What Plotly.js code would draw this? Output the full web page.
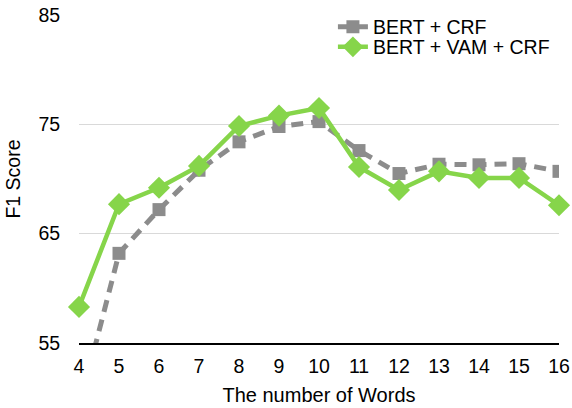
<!DOCTYPE html>
<html><head><meta charset="utf-8">
<script src="https://cdn.plot.ly/plotly-3.0.1.min.js"></script>
<style>html,body{margin:0;padding:0;background:#fff}#chart{width:572px;height:408px}</style>
</head><body><div id="chart"></div>
<script>
var words = [4,5,6,7,8,9,10,11,12,13,14,15,16];
var bertCrf = [49.0,63.2,67.2,70.8,73.4,74.8,75.25,72.6,70.5,71.35,71.3,71.4,70.7];
var bertVamCrf = [58.3,67.7,69.2,71.2,74.85,75.8,76.5,71.1,69.0,70.7,70.1,70.1,67.6];
var seriesNames = ["BERT + CRF","BERT + VAM + CRF"];
var yTicks = [55,65,75,85];

var traces = [
  {x: words, y: bertCrf, name: seriesNames[0], type: "scatter", mode: "lines+markers",
   line: {color: "#8c8c8c", width: 5, dash: "12px,8px"},
   marker: {symbol: "square", size: 13, color: "#8c8c8c"}, cliponaxis: true, legend: "legend"},
  {x: words, y: bertVamCrf, name: seriesNames[1], type: "scatter", mode: "lines+markers",
   line: {color: "#86d54a", width: 4.5},
   marker: {symbol: "diamond", size: 17, color: "#86d54a"}, cliponaxis: false, legend: "legend2"}
];

var legendBase = {x: 0.529, xanchor: "left", yanchor: "middle", bgcolor: "rgba(0,0,0,0)",
                  font: {size: 19.5}, itemwidth: 30};

var layout = {
  width: 572, height: 408,
  margin: {l: 79, r: 13, t: 15, b: 65, autoexpand: false},
  paper_bgcolor: "#fff", plot_bgcolor: "#fff",
  font: {family: "Liberation Sans, Arial, sans-serif", color: "#000", size: 19},
  showlegend: true,
  legend: Object.assign({}, legendBase, {y: 0.963}),
  legend2: Object.assign({}, legendBase, {y: 0.902}),
  xaxis: {range: [4, 16], tickvals: words, ticktext: words.map(String),
          showgrid: false, zeroline: false, showline: true, linecolor: "#000", linewidth: 1.5,
          ticks: "outside", ticklen: 5, tickcolor: "rgba(0,0,0,0)",
          tickfont: {size: 19.5},
          title: {text: "The number of Words", font: {size: 20}, standoff: 12}},
  yaxis: {range: [55, 85], tickvals: yTicks, ticktext: yTicks.map(String),
          showgrid: true, gridcolor: "#d9d9d9", gridwidth: 1.2, zeroline: false, showline: false,
          ticks: "outside", ticklen: 14, tickcolor: "rgba(0,0,0,0)",
          tickfont: {size: 19.5},
          title: {text: "F1 Score", font: {size: 19.5}, standoff: 12}}
};

Plotly.newPlot("chart", traces, layout, {displayModeBar: false, staticPlot: true});
</script></body></html>
